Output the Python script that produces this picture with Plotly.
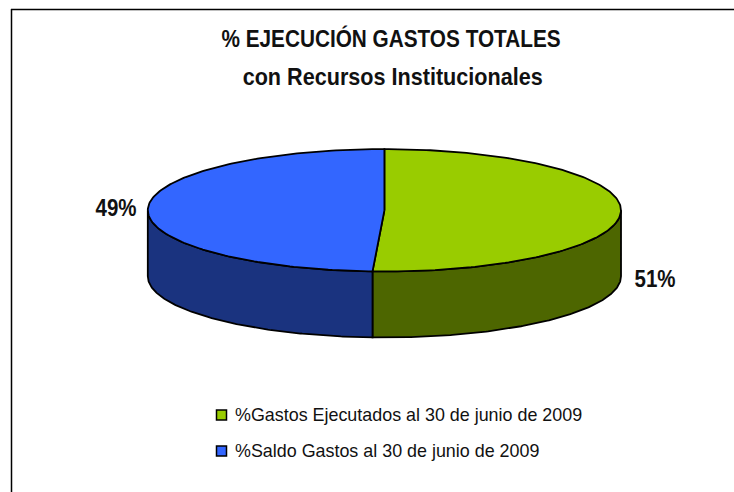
import numpy as np
import plotly.graph_objects as go

title_lines = ["% EJECUCIÓN GASTOS TOTALES", "con Recursos Institucionales"]
categories = ["%Gastos Ejecutados al 30 de junio de 2009", "%Saldo Gastos al 30 de junio de 2009"]
values = [50.8, 49.2]
top_colors = ["#99CC00", "#3366FF"]
side_colors = ["#4D6600", "#1A337F"]

W, H = 734, 492
CX, CY, RX, RY, DEPTH = 384.4, 210.3, 236.6, 61.2, 66
LW = 1.8
INK = "#111111"
FONT = "Liberation Sans"


def rim(a0, a1, dy=0.0):
    t = np.radians(np.linspace(a0, a1, 181))
    return CX + RX * np.sin(t), CY - RY * np.cos(t) + dy


fig = go.Figure()
angles = np.cumsum([0] + values) / sum(values) * 360

# visible side walls: only the front half of the disc (90..270 degrees)
for i in range(len(values)):
    a0, a1 = max(angles[i], 90), min(angles[i + 1], 270)
    x, y = rim(a0, a1)
    xb, yb = rim(a1, a0, DEPTH)
    fig.add_trace(go.Scatter(
        x=np.r_[x, xb, x[0]], y=np.r_[y, yb, y[0]], mode="lines", fill="toself",
        fillcolor=side_colors[i], line=dict(color="black", width=LW),
        hoverinfo="skip", showlegend=False))

# top faces
for i, name in enumerate(categories):
    x, y = rim(angles[i], angles[i + 1])
    fig.add_trace(go.Scatter(
        x=np.r_[CX, x, CX], y=np.r_[CY, y, CY], mode="lines", fill="toself",
        fillcolor=top_colors[i], line=dict(color="black", width=LW),
        name=name, hoverinfo="name", showlegend=False))

# legend keys
legend_y = [415, 451]
for i, name in enumerate(categories):
    fig.add_trace(go.Scatter(
        x=[221.5], y=[legend_y[i]], mode="markers",
        marker=dict(symbol="square", size=10, color=top_colors[i], line=dict(color="black", width=1.5)),
        name=name, hoverinfo="name", showlegend=False))

ann = []
for line, yy, xx in zip(title_lines, [38, 76], [390.5, 392.5]):
    ann.append(dict(x=xx, y=yy, text=line, showarrow=False, xanchor="center", yanchor="middle",
                    font=dict(family=FONT, size=24, color=INK, weight="bold")))
for i, name in enumerate(categories):
    ann.append(dict(x=233, y=legend_y[i], text=name, showarrow=False, xanchor="left", yanchor="middle",
                    font=dict(family=FONT, size=17.9, color=INK)))
ann.append(dict(x=654.5, y=278, text=f"{round(values[0])}%", showarrow=False, xanchor="center", yanchor="middle",
                font=dict(family=FONT, size=24, color=INK, weight="bold")))
ann.append(dict(x=116, y=207, text=f"{round(values[1])}%", showarrow=False, xanchor="center", yanchor="middle",
                font=dict(family=FONT, size=24, color=INK, weight="bold")))

fig.update_layout(
    width=W, height=H, margin=dict(l=0, r=0, t=0, b=0),
    paper_bgcolor="white", plot_bgcolor="white", annotations=ann, showlegend=False,
    xaxis=dict(range=[0, W], visible=False, fixedrange=True),
    yaxis=dict(range=[H, 0], visible=False, fixedrange=True),
    shapes=[
        dict(type="line", x0=11.5, x1=11.5, y0=9, y1=H, line=dict(color="black", width=1.5)),
        dict(type="line", x0=11, x1=W, y0=9.5, y1=9.5, line=dict(color="black", width=1.5)),
    ],
)
# The reference's bold text is condensed: no narrow font is installed, so squeeze the real text horizontally.
squeeze = """
document.body.style.margin='0';document.documentElement.style.overflow='hidden';
var scale={0:0.865,1:0.90,4:0.854,5:0.854};
document.querySelectorAll('.annotation-text').forEach(function(t,i){
  if(scale[i]){t.setAttribute('textLength',t.getComputedTextLength()*scale[i]);t.setAttribute('lengthAdjust','spacingAndGlyphs');}
});
"""
fig.write_html("out.html", config=dict(displayModeBar=False), post_script=squeeze)
